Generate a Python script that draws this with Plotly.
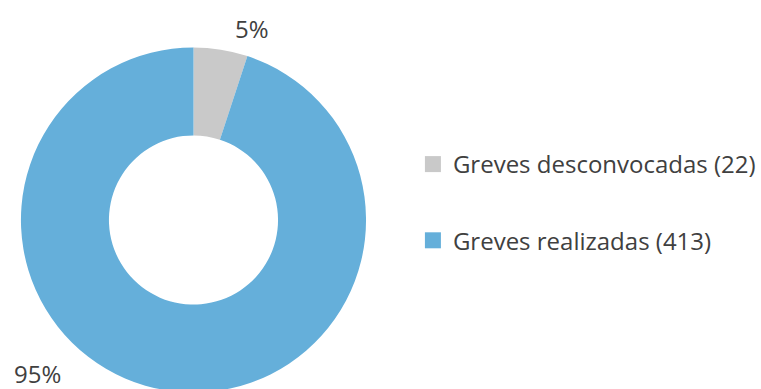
import plotly.graph_objects as go

labels = ["Greves desconvocadas (22)", "Greves realizadas (413)"]
values = [22, 413]
colors = ["#C9C9C9", "#65AFDA"]

W, H = 761, 441
cx, cy, r = 194, 220, 173

total = sum(values)
pcts = [f"{round(v / total * 100)}%" for v in values]
label_pos = [(253, 28), (38, 373)]

fig = go.Figure()
fig.add_trace(go.Pie(
    labels=labels, values=values, hole=0.49, sort=False, direction="clockwise",
    rotation=0, marker=dict(colors=colors, line=dict(width=0)),
    textinfo="none", hoverinfo="label+value+percent", showlegend=False,
    domain=dict(x=[(cx - r) / W, (cx + r) / W], y=[(H - cy - r) / H, (H - cy + r) / H]),
))
for i, (lab, col) in enumerate(zip(labels, colors)):
    fig.add_trace(go.Scatter(
        x=[None], y=[None], mode="markers", name=lab, legendgroup=str(i),
        marker=dict(symbol="square", size=16, color=col, line=dict(width=0)),
    ))
for p, (px, py) in zip(pcts, label_pos):
    fig.add_annotation(text=p, x=px / W, y=1 - py / H, xref="paper", yref="paper",
                       xanchor="center", yanchor="middle",
                       showarrow=False, font=dict(size=24, color="#404040"))

fig.update_layout(
    width=W, height=H, margin=dict(l=0, r=0, t=0, b=0),
    paper_bgcolor="white", plot_bgcolor="white",
    font=dict(family="'Open Sans', sans-serif", size=24, color="#404040"),
    xaxis=dict(visible=False), yaxis=dict(visible=False),
    legend=dict(x=414 / W, y=1 - 142 / H, xanchor="left", yanchor="top",
                tracegroupgap=42, font=dict(size=24, color="#404040"),
                itemsizing="trace"),
)
fig.write_html("out.html", post_script="document.documentElement.style.overflow='hidden';document.body.style.overflow='hidden';")
